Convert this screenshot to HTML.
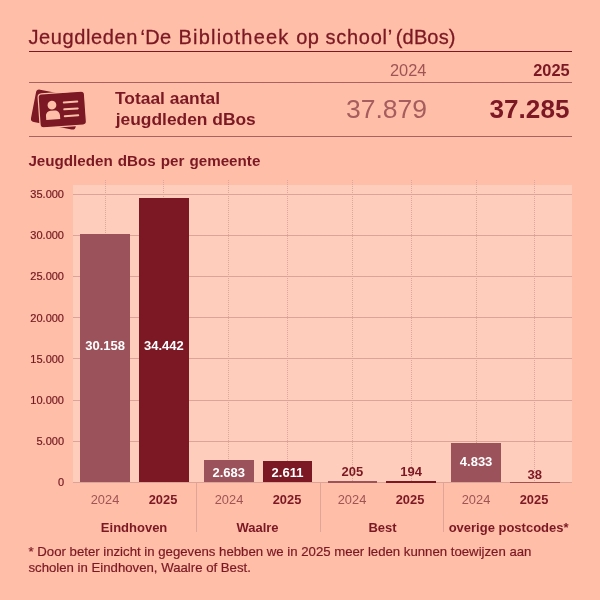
<!DOCTYPE html>
<html lang="nl"><head><meta charset="utf-8"><title>Jeugdleden dBos</title>
<style>
html,body{margin:0;padding:0}
body{width:600px;height:600px;overflow:hidden;background:#ffbea8;position:relative;font-family:"Liberation Sans",sans-serif;color:#7b1823}
.abs{position:absolute;white-space:nowrap;line-height:1}
.hl{position:absolute;left:29px;width:543px;height:1px}
.title{left:0;top:26.5px;font-size:20px;-webkit-text-stroke:.3px;width:600px;height:20px}
.title span{position:absolute;top:0}
.yr{font-size:16.4px;text-align:right}
.big{font-size:26.5px;text-align:right}
.big.b{font-size:26.1px}
.b{font-weight:bold}
.med{color:#a05555}
.big.med{color:#a65d5d}
.tot{left:115.7px;font-size:17.4px;font-weight:bold}
.ct{left:28.4px;top:152.6px;font-size:15.2px;font-weight:bold;word-spacing:.8px}
.plot{position:absolute;left:72.5px;top:185.2px;width:499.5px;height:297.8px;background:#ffcdbb}
.g{position:absolute;left:72.5px;width:499.5px;height:1px;background:#dca498}
.v{position:absolute;width:0;border-left:1px dotted #dda79b;top:179.5px;height:303px}
.yl{right:536px;font-size:11px;text-align:right;color:#72181f;-webkit-text-stroke:.2px}
.bar{position:absolute}
.sep{position:absolute;width:1px;top:483px;height:48.5px;background:#e0a596}
.xl{font-size:13.6px;text-align:center;width:60px;transform:scaleX(.945)}
.gl{font-size:13px;font-weight:bold;text-align:center;width:124px}
.vl{font-size:13px;font-weight:bold;text-align:center;width:60px}
.fn{left:28.5px;font-size:13.2px;-webkit-text-stroke:.2px}
</style></head><body>

<div class="abs title"><span style="left:28.4px;letter-spacing:0.61px">Jeugdleden</span> <span style="left:140.5px;letter-spacing:0.3px">‘De</span> <span style="left:178.5px;letter-spacing:1.2px">Bibliotheek</span> <span style="left:296.2px;letter-spacing:0.4px">op</span> <span style="left:325.5px;letter-spacing:0.72px">school’</span> <span style="left:395.8px;letter-spacing:0.15px">(dBos)</span></div>
<div class="hl" style="top:51px;background:#7b1823"></div>
<div class="hl" style="top:81.5px;background:#a86262"></div>
<div class="hl" style="top:136px;background:#a86262"></div>
<div class="abs yr med" style="right:173.6px;top:62.3px">2024</div>
<div class="abs yr b" style="right:30.3px;top:62.3px">2025</div>
<div class="abs big med" style="right:173px;top:95.7px">37.879</div>
<div class="abs big b" style="right:30.6px;top:96px">37.285</div>
<svg class="abs" style="left:28px;top:86px" width="62" height="48" viewBox="0 0 62 48">
<g fill="#7b1823">
<rect x="5.1" y="7" width="45.5" height="33" rx="3.5" transform="rotate(11 27.6 23.5)"/>
<rect x="11" y="6.5" width="46.5" height="34" rx="3.5" transform="rotate(-4 34 23)" stroke="#ffbea8" stroke-width="1.2"/>
</g>
<g transform="translate(1 -0.6) rotate(-4 33 23)" fill="#ffbea8">
<circle cx="23.2" cy="19" r="4.4"/>
<path d="M16.5 33.5v-4c0-3 2.500-5 5-5h4c2.500 0 5 2 5 5v4z"/>
<rect x="34.2" y="16.2" width="15.5" height="2" rx="1"/>
<rect x="34.2" y="23.100" width="15.5" height="2" rx="1"/>
<rect x="34.2" y="30" width="15.5" height="2" rx="1"/>
</g>
</svg>
<div class="abs tot" style="top:89.9px;left:115px">Totaal aantal</div>
<div class="abs tot" style="top:111.4px">jeugdleden dBos</div>
<div class="abs ct">Jeugdleden dBos per gemeente</div>
<div class="plot"></div>
<div class="v" style="left:104.65px"></div>
<div class="v" style="left:163.35px"></div>
<div class="v" style="left:228.30px"></div>
<div class="v" style="left:287.00px"></div>
<div class="v" style="left:351.95px"></div>
<div class="v" style="left:410.65px"></div>
<div class="v" style="left:475.60px"></div>
<div class="v" style="left:534.30px"></div>
<div class="g" style="top:482.00px"></div>
<div class="abs yl" style="top:477.30px">0</div>
<div class="g" style="top:440.83px"></div>
<div class="abs yl" style="top:436.13px">5.000</div>
<div class="g" style="top:399.66px"></div>
<div class="abs yl" style="top:394.96px">10.000</div>
<div class="g" style="top:358.49px"></div>
<div class="abs yl" style="top:353.79px">15.000</div>
<div class="g" style="top:317.32px"></div>
<div class="abs yl" style="top:312.62px">20.000</div>
<div class="g" style="top:276.15px"></div>
<div class="abs yl" style="top:271.45px">25.000</div>
<div class="g" style="top:234.98px"></div>
<div class="abs yl" style="top:230.28px">30.000</div>
<div class="g" style="top:193.81px"></div>
<div class="abs yl" style="top:189.11px">35.000</div>
<div class="bar" style="left:80.40px;width:49.5px;top:233.70px;height:248.80px;background:#9b525b"></div>
<div class="abs vl" style="left:75.15px;top:338.90px;color:#fff">30.158</div>
<div class="abs xl med" style="left:75.15px;top:493px">2024</div>
<div class="bar" style="left:139.10px;width:49.5px;top:198.35px;height:284.15px;background:#7b1823"></div>
<div class="abs vl" style="left:133.85px;top:338.90px;color:#fff">34.442</div>
<div class="abs xl b" style="left:133.15px;top:493px">2025</div>
<div class="abs gl" style="left:72.10px;top:520.5px">Eindhoven</div>
<div class="bar" style="left:204.05px;width:49.5px;top:460.37px;height:22.13px;background:#9b525b"></div>
<div class="abs vl" style="left:198.80px;top:465.53px;color:#fff">2.683</div>
<div class="abs xl med" style="left:198.80px;top:493px">2024</div>
<div class="bar" style="left:262.75px;width:49.5px;top:460.96px;height:21.54px;background:#7b1823"></div>
<div class="abs vl" style="left:257.50px;top:465.83px;color:#fff">2.611</div>
<div class="abs xl b" style="left:256.80px;top:493px">2025</div>
<div class="abs gl" style="left:195.50px;top:520.5px">Waalre</div>
<div class="bar" style="left:327.70px;width:49.5px;top:481.00px;height:2.00px;background:#9b525b"></div>
<div class="abs vl" style="left:322.45px;top:464.90px;color:#7b1823">205</div>
<div class="abs xl med" style="left:322.45px;top:493px">2024</div>
<div class="bar" style="left:386.40px;width:49.5px;top:481.00px;height:2.00px;background:#7b1823"></div>
<div class="abs vl" style="left:381.15px;top:464.90px;color:#7b1823">194</div>
<div class="abs xl b" style="left:380.45px;top:493px">2025</div>
<div class="abs gl" style="left:320.50px;top:520.5px">Best</div>
<div class="bar" style="left:451.35px;width:49.5px;top:442.63px;height:39.87px;background:#9b525b"></div>
<div class="abs vl" style="left:446.10px;top:455.46px;color:#fff">4.833</div>
<div class="abs xl med" style="left:446.10px;top:493px">2024</div>
<div class="bar" style="left:510.05px;width:49.5px;top:482.00px;height:1.00px;background:rgba(123,24,35,.6)"></div>
<div class="abs vl" style="left:504.80px;top:467.70px;color:#7b1823">38</div>
<div class="abs xl b" style="left:504.10px;top:493px">2025</div>
<div class="abs gl" style="left:446.60px;top:520.5px">overige postcodes*</div>
<div class="sep" style="left:195.75px"></div>
<div class="sep" style="left:319.50px"></div>
<div class="sep" style="left:442.75px"></div>
<div class="abs fn" style="top:544.6px">* Door beter inzicht in gegevens hebben we in 2025 meer leden kunnen toewijzen aan</div>
<div class="abs fn" style="top:560.8px">scholen in Eindhoven, Waalre of Best.</div>
</body></html>
